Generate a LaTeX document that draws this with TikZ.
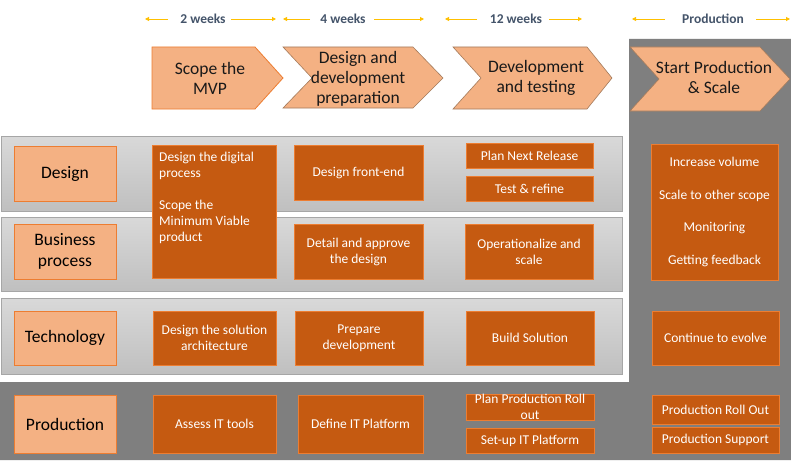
\documentclass[tikz,border=0pt]{standalone}
\usepackage{fontspec}
\setmainfont{Carlito}
\usetikzlibrary{arrows.meta}
\definecolor{dorange}{HTML}{C55A11}
\definecolor{oborder}{HTML}{ED7D31}
\definecolor{lorange}{HTML}{F4B183}
\definecolor{dgray}{HTML}{7F7F7F}
\definecolor{bandborder}{HTML}{A6A6A6}
\definecolor{gold}{HTML}{FFC000}
\definecolor{slate}{HTML}{44546A}
\definecolor{chevborder}{HTML}{A47B5C}
\tikzset{
  obox/.style={draw=oborder, fill=dorange, line width=0.8pt, text=white, align=center,
    font=\fontsize{13.5}{16}\selectfont, inner sep=1pt},
  lbox/.style={draw=oborder, fill=lorange, line width=0.8pt, text=black, align=center,
    font=\fontsize{17.5}{21}\selectfont, inner sep=1pt, minimum width=102pt},
  band/.style={draw=bandborder, line width=1pt, top color=gray!30, bottom color=gray!50},
  chev/.style={fill=lorange, draw=chevborder, line width=0.6pt},
  chevtext/.style={align=center, font=\fontsize{17.5}{20}\selectfont, text=black!90},
  toptext/.style={font=\bfseries\fontsize{13.5}{15}\selectfont, text=slate},
  toparrow/.style={draw=gold, line width=0.9pt, -{Triangle[length=4pt,width=4pt]}}
}
\begin{document}
\begin{tikzpicture}[x=1pt,y=-1pt]
\useasboundingbox (0,0) rectangle (791,460);
\fill[white] (0,0) rectangle (791,460);
% dark gray production region
\fill[dgray] (629,39) -- (791,39) -- (791,460) -- (0,460) -- (0,382) -- (629,382) -- cycle;
% bands
\draw[band] (1,136) rectangle (622,211);
\draw[band] (1,217) rectangle (622,291);
\draw[band] (1,298) rectangle (622,374);

% top timeline
\node[toptext] (t1) at (203,19) {2 weeks};
\node[toptext] (t2) at (343,19) {4 weeks};
\node[toptext] (t3) at (516,19) {12 weeks};
\node[toptext] (t4) at (713,19) {Production};
\coordinate (a1l) at (145,19); \coordinate (a1r) at (276,19);
\coordinate (a2l) at (283,19); \coordinate (a2r) at (424,19);
\coordinate (a3l) at (445,19); \coordinate (a3r) at (582,19);
\coordinate (a4l) at (632,19); \coordinate (a4r) at (790,19);
\draw[toparrow] (168,19) -- (a1l);
\draw[toparrow] (231,19) -- (a1r);
\draw[toparrow] (310,19) -- (a2l);
\draw[toparrow] (374,19) -- (a2r);
\draw[toparrow] (477,19) -- (a3l);
\draw[toparrow] (549,19) -- (a3r);
\draw[toparrow] (665,19) -- (a4l);
\draw[toparrow] (756,19) -- (a4r);

% chevrons
\draw[fill=lorange, draw=oborder, line width=0.8pt] (152,47) -- (255,47) -- (283,78) -- (255,109) -- (152,109) -- cycle;
\draw[chev] (283,47) -- (413,47) -- (443,78) -- (413,108) -- (283,108) -- (312,78) -- cycle;
\draw[chev] (453,47) -- (587,47) -- (612,78) -- (587,109) -- (453,109) -- (481,78) -- cycle;
\draw[chev] (630,47) -- (760,47) -- (790,79) -- (760,111) -- (630,111) -- (659,79) -- cycle;
\node[chevtext] (c1) at (210,78) {Scope the\\MVP};
\node[chevtext] (c2) at (358,78.5) {Design and\\development\\preparation};
\node[chevtext] (c3) at (536,78) {Development\\and testing};
\node[chevtext] (c4) at (714,77) {Start Production\\\& Scale};

% row labels
\node[lbox, minimum height=55pt] (ldesign) at (65,173.5) {Design};
\node[lbox, minimum height=55pt] (lbusiness) at (65,251.5) {Business\\process};
\node[lbox, minimum height=54pt] (ltech) at (65,338) {Technology};
\node[lbox, minimum height=58pt] (lprod) at (65,424) {Production};

% column 1
\node[obox, minimum width=124pt, minimum height=133pt] (digital) at (214,211.5) {};
\node[anchor=north west, text=white, align=left, font=\fontsize{13.5}{16}\selectfont, inner sep=0pt]
  (digitaltext) at (159,152) {Design the digital\\process\\[16pt]Scope the\\Minimum Viable\\product};
\node[obox, minimum width=123pt, minimum height=54pt] (solarch) at (214.5,338) {Design the solution\\architecture};
\node[obox, minimum width=123pt, minimum height=58pt] (assess) at (214.5,424) {Assess IT tools};

% column 2
\node[obox, minimum width=129pt, minimum height=55pt] (frontend) at (358.5,172.5) {Design front-end};
\node[obox, minimum width=129pt, minimum height=55pt] (detail) at (358.5,251.5) {Detail and approve\\the design};
\node[obox, minimum width=128pt, minimum height=54pt] (prepdev) at (359,338) {Prepare\\development};
\node[obox, minimum width=125pt, minimum height=58pt] (defineit) at (360.5,424) {Define IT Platform};

% column 3
\node[obox, minimum width=127pt, minimum height=25pt] (plannext) at (529.5,155.5) {Plan Next Release};
\node[obox, minimum width=127pt, minimum height=25pt] (testrefine) at (529.5,188.5) {Test \& refine};
\node[obox, minimum width=128pt, minimum height=55pt] (operational) at (529,251.5) {Operationalize and\\scale};
\node[obox, minimum width=128pt, minimum height=54pt] (build) at (530,338) {Build Solution};
\node[obox, minimum width=128pt, minimum height=26pt, inner sep=0pt, text depth=0pt] (planprod) at (530,407) {\raisebox{0pt}[3pt][0pt]{}Plan Production Roll\\out};
\node[obox, minimum width=128pt, minimum height=25pt] (setup) at (530,440.5) {Set-up IT Platform};

% column 4
\node[obox, minimum width=127pt, minimum height=136pt, font=\fontsize{13.5}{16.4}\selectfont] (increase) at (714.5,212) {Increase volume\\[16.4pt]Scale to other scope\\[16.4pt]Monitoring\\[16.4pt]Getting feedback};
\node[obox, minimum width=127pt, minimum height=54pt] (evolve) at (715.5,338) {Continue to evolve};
\node[obox, minimum width=127pt, minimum height=29pt] (rollout) at (715.5,409.5) {Production Roll Out};
\node[obox, minimum width=127pt, minimum height=26pt] (support) at (715.5,440) {Production Support};
\end{tikzpicture}
\end{document}
